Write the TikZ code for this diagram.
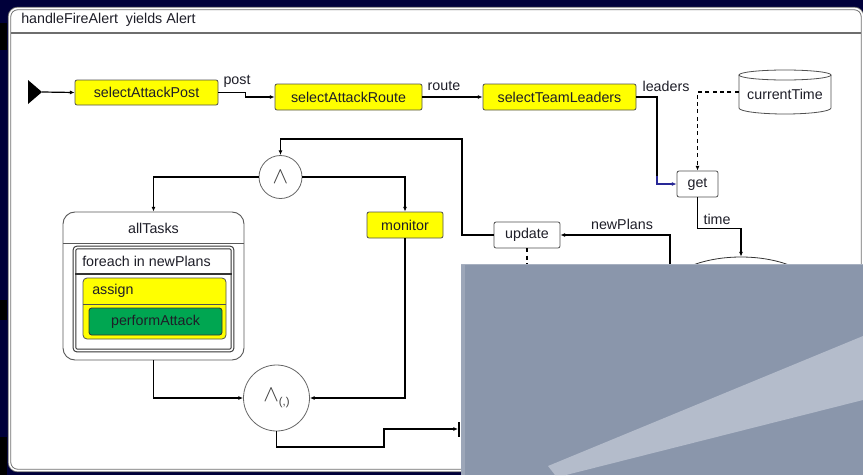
\documentclass[tikz,border=0pt]{standalone}
\usepackage{fontspec}
\usepackage{graphicx}
\setmainfont{Liberation Sans}
\usetikzlibrary{arrows.meta,shapes.geometric,calc}
\definecolor{navy}{RGB}{0,0,58}
\definecolor{frameg}{RGB}{110,110,110}
\definecolor{boxborder}{RGB}{80,80,80}
\definecolor{yel}{RGB}{255,255,0}
\definecolor{grn}{RGB}{0,166,81}
\definecolor{ovl}{RGB}{138,150,171}
\definecolor{ovlband}{RGB}{180,188,203}
\definecolor{txt}{RGB}{30,30,40}
\definecolor{linkblue}{RGB}{40,40,150}
\newcommand\dfont{\fontsize{10.7}{12.8}\selectfont}
\newcommand\gatewedge{\scalebox{1.6}{$\wedge$}}
\newcommand\pxu{0.75pt}
\begin{document}
\begin{tikzpicture}[x=0.75pt,y=-0.75pt, font=\dfont, text=txt,
  conn/.style={line width=0.9pt, draw=black, -{Latex[length=3.5pt,width=3pt]}},
  plain/.style={line width=0.9pt, draw=black},
  dsh/.style={dash pattern=on 3pt off 2.5pt},
  ybox/.style={draw=boxborder, fill=yel, rounded corners=1.5pt, inner sep=0pt, line width=0.6pt},
  wbox/.style={draw=boxborder, fill=white, rounded corners=1.5pt, inner sep=0pt, line width=0.6pt},
  gate/.style={circle, draw=gray!80!black, fill=white, inner sep=0pt, line width=0.6pt, text=gray!50!black},
  lbl/.style={inner sep=0pt},
]
\useasboundingbox (0,0) rectangle (863,475);
% background
\fill[navy] (0,0) rectangle (863,475);
\fill[black] (0,23) rectangle (7,50);
\fill[black] (0,300) rectangle (7,320);
\fill[black] (0,437) rectangle (7,475);
% outer frame
\draw[draw=frameg, double=white, double distance=1.6*\pxu, line width=0.9*\pxu, fill=white, rounded corners=8*\pxu] (9.5,8.5) rectangle (862.5,470.5);
\draw[frameg, line width=0.8pt] (11,33) -- (861,33);
\node[lbl, anchor=west] (title) at (21,20) {handleFireAlert\ \ yields Alert};

% top row
\fill[black] (28,80) -- (42,92) -- (28,104) -- cycle;
\coordinate (start) at (42,92);
\node[ybox, minimum width=143*\pxu, minimum height=25*\pxu] (sap) at (146.5,92.5) {selectAttackPost};
\node[ybox, minimum width=147*\pxu, minimum height=26*\pxu] (sar) at (348.5,97) {selectAttackRoute};
\node[ybox, minimum width=153*\pxu, minimum height=26*\pxu] (stl) at (559.5,97) {selectTeamLeaders};
\node[minimum width=92*\pxu, minimum height=45*\pxu, inner sep=0pt] (ct) at (785,92) {};
\draw[boxborder, line width=0.6pt, fill=white] (739,75) -- (739,108) arc[start angle=180, end angle=0, x radius=46, y radius=6] -- (831,75);
\draw[boxborder, line width=0.6pt, fill=white] (785,75) ellipse[x radius=46, y radius=5];
\node[lbl] (ctl) at (785,94) {currentTime};

\node[wbox, minimum width=41*\pxu, minimum height=26*\pxu] (get) at (697.5,184) {get};
\node[wbox, minimum width=66*\pxu, minimum height=26*\pxu] (upd) at (527,235) {update};
\node[ellipse, draw=black!80, fill=white, line width=0.6pt, minimum width=160*\pxu, minimum height=80*\pxu] (dec) at (741,297) {};

% gates and tasks
\node[gate, minimum size=43*\pxu] (and1) at (280.5,177) {\gatewedge};
\node[ybox, minimum width=76*\pxu, minimum height=26*\pxu] (mon) at (405,225) {monitor};
\node[draw=gray!70!black, fill=white, rounded corners=12*\pxu, minimum width=181*\pxu, minimum height=148*\pxu, line width=0.7pt] (at) at (153.5,286) {};
\draw[gray!70!black, line width=0.7pt] (63,243) -- (244,243);
\node[lbl] (atl) at (153.5,228) {allTasks};
\node[draw=black!80, double=white, double distance=1.2pt, line width=0.8pt, rounded corners=2pt, minimum width=158*\pxu, minimum height=103*\pxu] (fe) at (153.5,299) {};
\draw[black!80, line width=0.8pt] (75,274) -- (232,274);
\node[lbl, anchor=west] (fel) at (82,261) {foreach in newPlans};
\node[ybox, rounded corners=4*\pxu, minimum width=143*\pxu, minimum height=61*\pxu] (asg) at (154.5,308.5) {};
\draw[boxborder, line width=0.6pt] (83,304) -- (226,304);
\node[lbl, anchor=west] (asgl) at (92,291) {assign};
\node[draw=black!80, fill=grn, rounded corners=2pt, minimum width=133*\pxu, minimum height=27*\pxu, inner sep=0pt, line width=0.6pt] (perf) at (155.5,321.5) {performAttack};
\node[gate, minimum size=66*\pxu] (and2) at (276.5,398) {\gatewedge\raisebox{-3pt}{\fontsize{8.5}{8.5}\selectfont(,)}};

% coordinates
\coordinate (lc) at (657,176);
\coordinate (npsrc) at (670,300);
\coordinate (updsink) at (527,300);
\coordinate (c1) at (462,139);
\coordinate (c2) at (384,447);
\coordinate (fin) at (458,429);

% connectors
\draw[conn] (start) -- (sap.west);
\draw[conn] (sap.east) -- ++(27,0) |- (sar.west);
\draw[conn] (sar.east) -- (stl.west);
\draw[plain] (stl.east) -| (lc);
\draw[conn, draw=linkblue] (lc) |- (get.west);
\draw[conn, dsh] (ct.west) -| (get.north);
\draw[conn] (get.south) -- ++(0,31) -| (dec.north);
\draw[conn] (npsrc) |- (upd.east);
\draw[plain, dsh] (upd.south) -- (updsink);
\draw[conn] (upd.west) -| (c1) -| (and1.north);
\draw[conn] (and1.west) -| (at.north);
\draw[conn] (and1.east) -| (mon.north);
\draw[conn] (mon.south) |- (and2.east);
\draw[conn] (at.south) |- (and2.west);
\draw[conn] (and2.south) |- (c2) |- (fin);
\draw[line width=0.9pt] ($(fin)+(1,-7)$) -- ($(fin)+(1,8)$);

% labels
\node[lbl] (lpost) at (237,81) {post};
\node[lbl] (lroute) at (444,86) {route};
\node[lbl] (lleaders) at (666,86) {leaders};
\node[lbl] (lnp) at (622,224) {newPlans};
\node[lbl] (ltime) at (717,219) {time};

% overlay
\fill[ovl] (461,264) rectangle (863,475);
\fill[ovl!85!white] (461,264) rectangle (465,475);
\fill[ovlband] (548,466) -- (863,336) -- (863,400) -- (566,475) -- (555,475) -- cycle;
\draw[ovl!75!white, line width=1pt] (461,264.7) -- (863,264.7);
\end{tikzpicture}
\end{document}
